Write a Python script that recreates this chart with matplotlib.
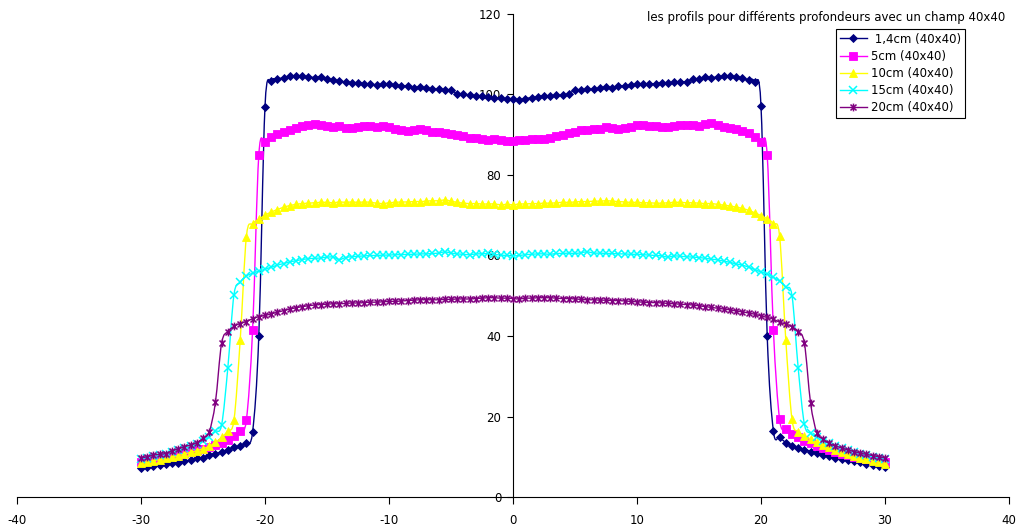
import numpy as np
import matplotlib
matplotlib.use("Agg")
import matplotlib.pyplot as plt
from matplotlib.path import Path
from matplotlib.patches import PathPatch
from matplotlib.lines import Line2D

plt.rcParams['font.family'] = ['DejaVu Sans']
plt.rcParams['axes.unicode_minus'] = False

# Lateral position across the field (cm), one reading every 0.5 cm
positions = np.arange(-30.0, 30.01, 0.5)

dose_1_4cm = [
    7.2, 7.4, 7.6, 7.9, 8.1, 8.4, 8.5, 8.9, 9.1, 9.6,
    9.8, 10.4, 10.8, 11.2, 11.6, 12.3, 12.7, 13.5, 16.2, 40.0,
    97.0, 103.3, 103.8, 104.2, 104.6, 104.6, 104.5, 104.4, 104.2, 104.4,
    103.9, 103.7, 103.3, 103.1, 102.9, 102.9, 102.7, 102.6, 102.4, 102.5,
    102.5, 102.3, 102.1, 102.1, 101.7, 101.9, 101.5, 101.3, 101.3, 101.1,
    101.1, 100.2, 100.0, 99.8, 99.7, 99.6, 99.4, 99.2, 99.1, 98.8,
    98.8, 98.6, 99.0, 99.2, 99.4, 99.7, 99.6, 99.8, 99.8, 100.2,
    101.1, 101.1, 101.3, 101.3, 101.5, 101.9, 101.7, 102.1, 102.1, 102.3,
    102.6, 102.6, 102.6, 102.7, 102.9, 102.9, 103.0, 103.2, 103.2, 103.8,
    103.8, 104.4, 104.2, 104.4, 104.5, 104.5, 104.4, 104.0, 103.6, 103.2,
    97.1, 40.0, 16.4, 14.9, 13.5, 12.7, 12.2, 11.8, 11.3, 10.9,
    10.5, 10.1, 9.8, 9.5, 9.2, 8.9, 8.6, 8.3, 8.0, 7.7, 7.4,
]

dose_5cm = [
    8.8, 9.1, 9.3, 9.6, 9.9, 10.2, 10.5, 10.9, 11.2, 11.6,
    12.0, 12.4, 12.9, 13.5, 14.1, 15.2, 16.4, 19.2, 41.5, 84.9,
    88.2, 89.5, 90.1, 90.7, 91.3, 91.8, 92.2, 92.5, 92.6, 92.4,
    92.1, 92.0, 92.2, 91.8, 91.6, 91.9, 92.1, 92.1, 91.9, 92.2,
    91.9, 91.5, 91.1, 90.9, 91.1, 91.4, 91.2, 90.8, 90.6, 90.4,
    90.2, 90.0, 89.6, 89.2, 89.1, 88.9, 88.8, 89.0, 88.8, 88.5,
    88.4, 88.6, 88.8, 89.0, 88.9, 89.0, 89.3, 89.6, 89.9, 90.4,
    90.8, 91.1, 91.3, 91.5, 91.5, 91.9, 91.6, 91.5, 91.8, 92.0,
    92.3, 92.3, 92.2, 92.2, 92.0, 91.9, 92.2, 92.4, 92.4, 92.3,
    92.2, 92.6, 92.8, 92.3, 91.9, 91.7, 91.4, 91.0, 90.4, 89.5,
    88.2, 84.9, 41.5, 19.3, 16.8, 15.6, 14.8, 14.0, 13.3, 12.7,
    12.1, 11.6, 11.2, 10.8, 10.4, 10.0, 9.7, 9.4, 9.1, 8.9, 8.6,
]

dose_10cm = [
    8.4, 8.7, 9.0, 9.3, 9.6, 9.9, 10.3, 10.7, 11.1, 11.5,
    12.0, 12.6, 13.6, 14.8, 16.4, 19.2, 39.0, 64.7, 67.9, 69.0,
    70.0, 70.8, 71.4, 72.0, 72.4, 72.7, 72.9, 73.0, 73.1, 73.2,
    73.2, 73.1, 73.3, 73.2, 73.3, 73.2, 73.3, 73.2, 73.0, 72.9,
    73.1, 73.2, 73.3, 73.3, 73.4, 73.4, 73.5, 73.6, 73.6, 73.8,
    73.5, 73.2, 73.0, 72.9, 72.9, 72.8, 72.8, 72.8, 72.6, 72.7,
    72.6, 72.8, 72.8, 72.9, 72.9, 73.0, 73.0, 73.1, 73.2, 73.2,
    73.3, 73.4, 73.4, 73.5, 73.5, 73.6, 73.5, 73.4, 73.3, 73.2,
    73.2, 73.1, 73.1, 73.0, 73.0, 73.1, 73.2, 73.2, 73.1, 73.1,
    73.0, 72.9, 72.9, 72.7, 72.5, 72.3, 72.0, 71.7, 71.2, 70.6,
    69.9, 69.1, 67.9, 64.8, 39.0, 19.3, 16.2, 15.2, 14.4, 13.6,
    12.9, 12.3, 11.7, 11.2, 10.7, 10.2, 9.8, 9.4, 9.0, 8.7, 8.3,
]

dose_15cm = [
    9.5, 9.8, 10.1, 10.4, 10.8, 11.2, 11.6, 12.1, 12.6, 13.2,
    13.9, 14.9, 16.3, 17.9, 32.0, 50.3, 53.3, 54.9, 55.6, 56.1,
    56.6, 57.1, 57.6, 58.0, 58.4, 58.7, 59.0, 59.2, 59.3, 59.4,
    59.6, 59.6, 59.0, 59.5, 59.7, 59.8, 59.9, 60.0, 60.0, 60.1,
    60.1, 60.2, 60.2, 60.3, 60.3, 60.4, 60.4, 60.5, 60.6, 60.9,
    60.6, 60.4, 60.3, 60.2, 60.4, 60.4, 60.5, 60.3, 60.1, 60.0,
    59.9, 60.0, 60.2, 60.3, 60.4, 60.4, 60.3, 60.5, 60.5, 60.6,
    60.5, 60.7, 60.9, 60.6, 60.6, 60.5, 60.5, 60.4, 60.4, 60.3,
    60.3, 60.2, 60.1, 60.0, 59.9, 59.6, 59.9, 59.8, 59.7, 59.6,
    59.5, 59.3, 59.1, 58.9, 58.6, 58.3, 57.9, 57.6, 57.1, 56.5,
    55.9, 55.4, 54.6, 53.6, 52.1, 50.0, 32.0, 18.1, 15.8, 14.8,
    14.0, 13.3, 12.7, 12.2, 11.7, 11.2, 10.8, 10.4, 10.0, 9.7, 9.4,
]

dose_20cm = [
    9.7, 10.0, 10.4, 10.6, 10.8, 11.5, 11.9, 12.5, 12.9, 13.5,
    14.6, 16.2, 23.5, 38.2, 41.1, 42.4, 43.1, 43.6, 44.3, 44.8,
    45.1, 45.5, 45.9, 46.3, 46.7, 47.0, 47.3, 47.5, 47.7, 47.8,
    47.9, 48.0, 48.0, 48.1, 48.2, 48.2, 48.3, 48.4, 48.4, 48.5,
    48.6, 48.6, 48.7, 48.8, 48.9, 49.0, 49.0, 49.0, 49.0, 49.1,
    49.1, 49.2, 49.2, 49.2, 49.3, 49.4, 49.5, 49.5, 49.4, 49.4,
    49.3, 49.2, 49.4, 49.4, 49.5, 49.5, 49.5, 49.4, 49.3, 49.3,
    49.2, 49.1, 49.0, 49.0, 48.9, 48.9, 48.8, 48.8, 48.7, 48.6,
    48.5, 48.4, 48.3, 48.3, 48.2, 48.1, 48.0, 47.9, 47.8, 47.7,
    47.5, 47.3, 47.1, 46.9, 46.7, 46.5, 46.2, 46.0, 45.7, 45.4,
    45.0, 44.6, 44.2, 43.4, 43.0, 42.3, 41.1, 38.2, 23.3, 16.0,
    14.4, 13.3, 12.7, 12.2, 11.7, 11.3, 10.9, 10.6, 10.3, 10.0, 9.7,
]

series_labels = [' 1,4cm (40x40)', '5cm (40x40)', '10cm (40x40)',
                 '15cm (40x40)', '20cm (40x40)']
x_ticks = [-40, -30, -20, -10, 0, 10, 20, 30, 40]
y_ticks = [0, 20, 40, 60, 80, 100, 120]
chart_title = 'les profils pour différents profondeurs avec un champ 40x40'

# asterisk marker: an x crossed by a vertical bar
star_marker = Path(
    [(-1, -1), (1, 1), (-1, 1), (1, -1), (0, -1.3), (0, 1.3)],
    [Path.MOVETO, Path.LINETO, Path.MOVETO, Path.LINETO, Path.MOVETO, Path.LINETO],
)

styles = [
    dict(color='#000080', marker='D', ms=4.0, mfc='#000080', mew=0.6),
    dict(color='#FF00FF', marker='s', ms=5.2, mfc='#FF00FF', mew=0.6),
    dict(color='#FFFF00', marker='^', ms=5.8, mfc='#FFFF00', mew=0.6),
    dict(color='#00FFFF', marker='x', ms=5.2, mfc='none', mew=1.1),
    dict(color='#800080', marker=star_marker, ms=5.6, mfc='none', mew=1.1),
]


def smooth_path(x, y, k=1.0 / 6.0):
    """Bezier path through the points (smoothed polyline)."""
    pts = np.column_stack([x, y]).astype(float)
    n = len(pts)
    verts = [pts[0]]
    codes = [Path.MOVETO]
    for i in range(n - 1):
        p0 = pts[i - 1] if i > 0 else pts[i]
        p1 = pts[i]
        p2 = pts[i + 1]
        p3 = pts[i + 2] if i + 2 < n else pts[i + 1]
        verts += [p1 + (p2 - p0) * k, p2 - (p3 - p1) * k, p2]
        codes += [Path.CURVE4] * 3
    return Path(verts, codes)


W, H = 1019, 530
fig = plt.figure(figsize=(W / 100, H / 100), dpi=100)
ax = fig.add_axes([17 / W, (H - 497) / H, 992 / W, (497 - 14) / H])
ax.set_xlim(-40, 40)
ax.set_ylim(0, 120)

all_series = [dose_1_4cm, dose_5cm, dose_10cm, dose_15cm, dose_20cm]
handles = []
for z, (vals, st) in enumerate(zip(all_series, styles)):
    patch = PathPatch(smooth_path(positions, vals), fill=False,
                      edgecolor=st['color'], lw=1.0, zorder=3 + z)
    ax.add_patch(patch)
    ax.plot(positions, vals, ls='none', marker=st['marker'], ms=st['ms'],
            mfc=st['mfc'], mec=st['color'], mew=st['mew'], zorder=3 + z)
    handles.append(Line2D([], [], color=st['color'], lw=1.0, marker=st['marker'],
                          ms=st['ms'], mfc=st['mfc'], mec=st['color'], mew=st['mew']))

for side in ('top', 'right'):
    ax.spines[side].set_visible(False)
ax.spines['left'].set_position(('data', 0))
ax.spines['bottom'].set_position(('data', 0))
for side in ('left', 'bottom'):
    ax.spines[side].set_linewidth(0.8)
    ax.spines[side].set_zorder(2)

ax.set_xticks(x_ticks)
ax.set_xticklabels([str(t) for t in x_ticks])
ax.set_yticks(y_ticks)
ax.set_yticklabels([str(t) for t in y_ticks])
ax.tick_params(axis='y', direction='out', length=4, width=0.8, pad=4.5,
               labelsize=8.5, colors='black')
ax.tick_params(axis='x', direction='out', length=5, width=0.8, pad=7,
               labelsize=8.5, colors='black')

leg = ax.legend(handles, series_labels, loc='upper left',
                bbox_to_anchor=(836 / W, 1 - 29 / H), bbox_transform=fig.transFigure,
                frameon=True, fancybox=False, edgecolor='black', framealpha=1,
                borderpad=0.3, handlelength=2.35, handletextpad=0.35,
                labelspacing=0.35, fontsize=8.5, borderaxespad=0, numpoints=1)
leg.get_frame().set_linewidth(0.8)

fig.text(1005 / W, 1 - 17 / H, chart_title, ha='right', va='center', fontsize=8.5)

fig.savefig('out.png', dpi=100)
